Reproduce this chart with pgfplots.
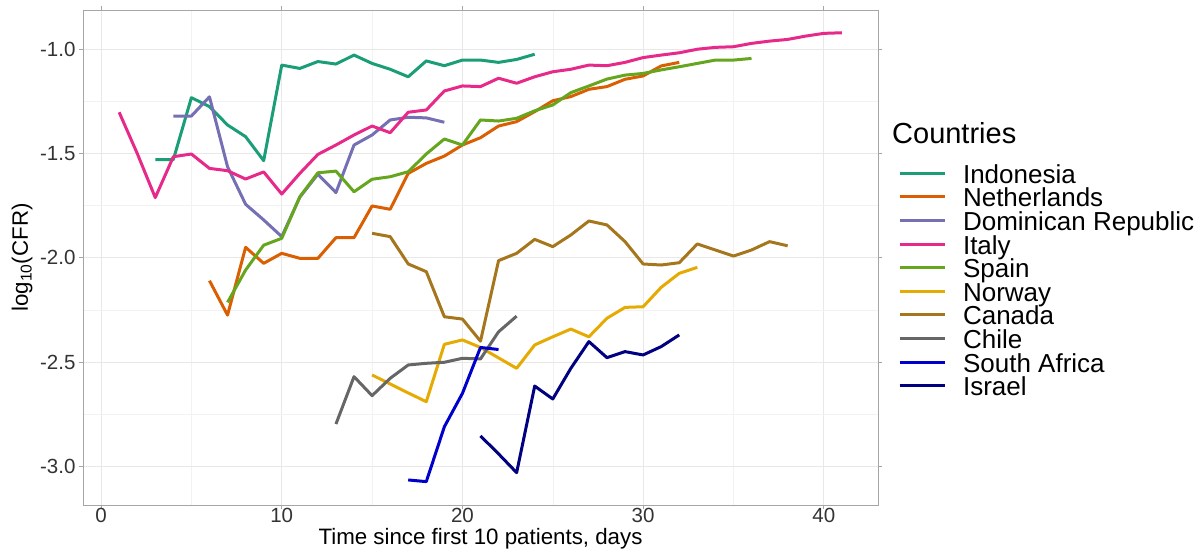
\documentclass[border=0pt]{standalone}
\usepackage{fontspec}
\setmainfont{Liberation Sans}
\usepackage{pgfplots}
\pgfplotsset{compat=1.18}
\definecolor{cIndo}{HTML}{1B9E77}
\definecolor{cNeth}{HTML}{D95F02}
\definecolor{cDom}{HTML}{7570B3}
\definecolor{cIta}{HTML}{E7298A}
\definecolor{cSpa}{HTML}{66A61E}
\definecolor{cNor}{HTML}{E6AB02}
\definecolor{cCan}{HTML}{A6761D}
\definecolor{cChi}{HTML}{666666}
\definecolor{cSA}{HTML}{0000CD}
\definecolor{cIsr}{HTML}{000080}
\begin{document}
\begin{tikzpicture}
\useasboundingbox (-83pt,-45pt) rectangle (1117pt,505pt);
\begin{axis}[
  scale only axis, width=795pt, height=495pt,
  xmin=-1, xmax=43, ymin=-3.185, ymax=-0.813,
  xtick={0,10,20,30,40}, xticklabels={0,10,20,30,40},
  minor xtick={5,15,25,35},
  ytick={-3,-2.5,-2,-1.5,-1}, yticklabels={-3.0,-2.5,-2.0,-1.5,-1.0},
  minor ytick={-2.75,-2.25,-1.75,-1.25},
  grid=both,
  major grid style={color=black!9, line width=0.8pt},
  minor grid style={color=black!5, line width=0.5pt},
  axis line style={black!35, line width=0.8pt},
  tick align=outside, major tick length=4pt, minor tick length=0pt,
  tick style={black!35, line width=0.8pt},
  ticklabel style={font=\fontsize{20.5}{23}\selectfont, text=black!80},
  xticklabel style={anchor=base, inner sep=0pt, yshift=-13.5pt},
  xlabel={Time since first 10 patients, days},
  ylabel={log\textsubscript{10}(CFR)},
  label style={font=\fontsize{22.3}{26}\selectfont},
  xlabel style={at={(axis description cs:0.5,-0.0795)}, anchor=base, inner sep=0pt},
  ylabel style={at={(axis description cs:-0.0767,0.5)}, anchor=center},
  clip=false,
  every axis plot/.append style={line width=3pt, line join=round},
  legend image code/.code={\draw[#1] (0pt,0pt) -- (45pt,0pt); \path (62pt,0pt);},
  legend style={at={(rel axis cs:1.0252,0.694)}, anchor=north west, draw=none, fill=none,
    inner sep=0pt, outer sep=0pt, row sep=0pt,
    font=\fontsize{26}{28}\selectfont,
    nodes={inner sep=0pt, text height=21.8pt, text depth=1.8pt},
    cells={anchor=west}},
]
\addplot[cIndo] coordinates {(3,-1.53)(4,-1.53)(5,-1.233)(6,-1.276)(7,-1.364)(8,-1.42)(9,-1.535)(10,-1.077)(11,-1.093)(12,-1.06)(13,-1.072)(14,-1.029)(15,-1.069)(16,-1.097)(17,-1.133)(18,-1.057)(19,-1.08)(20,-1.053)(21,-1.053)(22,-1.064)(23,-1.05)(24,-1.025)};
\addlegendentry{Indonesia}
\addplot[cNeth] coordinates {(6,-2.11)(7,-2.275)(8,-1.95)(9,-2.027)(10,-1.979)(11,-2.003)(12,-2.003)(13,-1.904)(14,-1.904)(15,-1.752)(16,-1.768)(17,-1.596)(18,-1.548)(19,-1.513)(20,-1.46)(21,-1.425)(22,-1.369)(23,-1.348)(24,-1.30)(25,-1.248)(26,-1.228)(27,-1.193)(28,-1.18)(29,-1.145)(30,-1.129)(31,-1.081)(32,-1.064)};
\addlegendentry{Netherlands}
\addplot[cDom] coordinates {(4,-1.321)(5,-1.321)(6,-1.229)(7,-1.564)(8,-1.744)(9,-1.819)(10,-1.899)(11,-1.71)(12,-1.60)(13,-1.688)(14,-1.46)(15,-1.412)(16,-1.34)(17,-1.327)(18,-1.33)(19,-1.351)};
\addlegendentry{Dominican Republic}
\addplot[cIta] coordinates {(1,-1.303)(2,-1.50)(3,-1.712)(4,-1.516)(5,-1.503)(6,-1.572)(7,-1.583)(8,-1.623)(9,-1.589)(10,-1.695)(11,-1.596)(12,-1.505)(13,-1.46)(14,-1.412)(15,-1.369)(16,-1.401)(17,-1.303)(18,-1.292)(19,-1.201)(20,-1.177)(21,-1.18)(22,-1.14)(23,-1.164)(24,-1.133)(25,-1.109)(26,-1.097)(27,-1.077)(28,-1.08)(29,-1.064)(30,-1.041)(31,-1.029)(32,-1.018)(33,-1.001)(34,-0.992)(35,-0.989)(36,-0.973)(37,-0.962)(38,-0.954)(39,-0.938)(40,-0.925)(41,-0.922)};
\addlegendentry{Italy}
\addplot[cSpa] coordinates {(7,-2.214)(8,-2.059)(9,-1.94)(10,-1.907)(11,-1.708)(12,-1.593)(13,-1.585)(14,-1.684)(15,-1.624)(16,-1.612)(17,-1.588)(18,-1.503)(19,-1.431)(20,-1.46)(21,-1.34)(22,-1.345)(23,-1.332)(24,-1.296)(25,-1.268)(26,-1.209)(27,-1.177)(28,-1.144)(29,-1.125)(30,-1.117)(31,-1.1)(32,-1.085)(33,-1.069)(34,-1.053)(35,-1.053)(36,-1.045)};
\addlegendentry{Spain}
\addplot[cNor] coordinates {(15,-2.562)(16,-2.605)(17,-2.648)(18,-2.69)(19,-2.415)(20,-2.394)(21,-2.43)(22,-2.48)(23,-2.53)(24,-2.418)(25,-2.379)(26,-2.342)(27,-2.379)(28,-2.29)(29,-2.238)(30,-2.235)(31,-2.142)(32,-2.075)(33,-2.046)};
\addlegendentry{Norway}
\addplot[cCan] coordinates {(15,-1.883)(16,-1.899)(17,-2.03)(18,-2.067)(19,-2.283)(20,-2.294)(21,-2.40)(22,-2.014)(23,-1.979)(24,-1.912)(25,-1.947)(26,-1.891)(27,-1.824)(28,-1.843)(29,-1.923)(30,-2.03)(31,-2.035)(32,-2.024)(33,-1.934)(34,-1.963)(35,-1.992)(36,-1.963)(37,-1.923)(38,-1.943)};
\addlegendentry{Canada}
\addplot[cChi] coordinates {(13,-2.797)(14,-2.57)(15,-2.661)(16,-2.578)(17,-2.514)(18,-2.506)(19,-2.501)(20,-2.482)(21,-2.485)(22,-2.355)(23,-2.28)};
\addlegendentry{Chile}
\addplot[cSA] coordinates {(17,-3.065)(18,-3.073)(19,-2.81)(20,-2.65)(21,-2.43)(22,-2.44)};
\addlegendentry{South Africa}
\addplot[cIsr] coordinates {(21,-2.854)(22,-2.94)(23,-3.03)(24,-2.615)(25,-2.677)(26,-2.53)(27,-2.402)(28,-2.479)(29,-2.45)(30,-2.466)(31,-2.426)(32,-2.37)};
\addlegendentry{Israel}
\node[anchor=base west, inner sep=0pt, font=\fontsize{29}{32}\selectfont] at (rel axis cs:1.0176,0.7307) {Countries};
\end{axis}
\end{tikzpicture}
\end{document}
